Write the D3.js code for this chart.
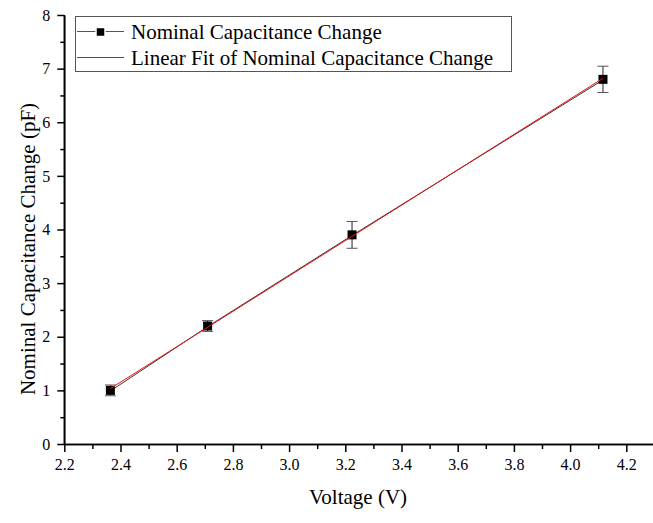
<!DOCTYPE html>
<html>
<head>
<meta charset="utf-8">
<title>Nominal Capacitance Change</title>
<script src="https://cdn.jsdelivr.net/npm/d3@7"></script>
<style>
body { margin: 0; background: #fff; }
svg text { font-family: "Liberation Serif", "Times New Roman", serif !important; fill: #000; }
.axis path, .axis line { stroke: #000; stroke-width: 1.5; }
</style>
</head>
<body>
<script>
// measured values
var voltage = [2.364, 2.71, 3.224, 4.117];
var capChange = [1.0, 2.2, 3.9, 6.8];
var capError = [0.1, 0.1, 0.25, 0.245];
var xTicks = [2.2, 2.4, 2.6, 2.8, 3.0, 3.2, 3.4, 3.6, 3.8, 4.0, 4.2];
var yTicks = [0, 1, 2, 3, 4, 5, 6, 7, 8];
var legendLabels = ["Nominal Capacitance Change", "Linear Fit of Nominal Capacitance Change"];

var width = 653, height = 523;
var serif = "'Liberation Serif', 'Times New Roman', serif";

var svg = d3.select("body").append("svg")
  .attr("width", width)
  .attr("height", height);

var x = d3.scaleLinear().domain([2.2, 4.3]).range([64.3, 654.4]);
var y = d3.scaleLinear().domain([0, 8]).range([444, 15]);

// minor ticks
var xMinor = d3.range(2.3, 4.3, 0.2);
var yMinor = d3.range(0.5, 8, 1);

svg.append("g")
  .attr("class", "axis")
  .attr("transform", "translate(0," + y(0) + ")")
  .call(d3.axisBottom(x).tickValues(xMinor).tickSize(5).tickFormat("").tickSizeOuter(0));

svg.append("g")
  .attr("class", "axis")
  .attr("transform", "translate(" + x(2.2) + ",0)")
  .call(d3.axisLeft(y).tickValues(yMinor).tickSize(4).tickFormat("").tickSizeOuter(0));

var xAxis = svg.append("g")
  .attr("class", "axis")
  .attr("transform", "translate(0," + y(0) + ")")
  .call(d3.axisBottom(x).tickValues(xTicks).tickSize(8).tickSizeOuter(0).tickFormat(d3.format(".1f")));
xAxis.attr("font-family", serif).attr("font-size", 16);
xAxis.selectAll("text").attr("dy", "0.95em").attr("y", 11);

var yAxis = svg.append("g")
  .attr("class", "axis")
  .attr("transform", "translate(" + x(2.2) + ",0)")
  .call(d3.axisLeft(y).tickValues(yTicks).tickSize(7).tickSizeOuter(0).tickFormat(d3.format("d")));
yAxis.attr("font-family", serif).attr("font-size", 16);
yAxis.selectAll("text").attr("x", -14);
yAxis.select(".domain").attr("d", "M0," + y(8) + "V" + y(0));

// axis titles
svg.append("text")
  .attr("x", 358).attr("y", 504)
  .attr("text-anchor", "middle")
  .attr("font-size", 21)
  .text("Voltage (V)");

svg.append("text")
  .attr("transform", "translate(35,249) rotate(-90)")
  .attr("text-anchor", "middle")
  .attr("font-size", 21)
  .text("Nominal Capacitance Change (pF)");

var pts = voltage.map(function(v, i) { return {x: v, y: capChange[i], e: capError[i]}; });

// data line
svg.append("path")
  .datum(pts)
  .attr("fill", "none")
  .attr("stroke", "#333")
  .attr("stroke-width", 1)
  .attr("d", d3.line().x(function(d) { return x(d.x); }).y(function(d) { return y(d.y) + 0.6; }));

// linear fit (least squares)
var mx = d3.mean(voltage), my = d3.mean(capChange);
var sxy = d3.sum(pts, function(d) { return (d.x - mx) * (d.y - my); });
var sxx = d3.sum(pts, function(d) { return (d.x - mx) * (d.x - mx); });
var slope = sxy / sxx, icpt = my - slope * mx;
var fitEnds = d3.extent(voltage);

// error bars
var eb = svg.append("g").attr("stroke", "#222").attr("stroke-width", 1);
pts.forEach(function(d) {
  var cx = x(d.x);
  eb.append("line").attr("x1", cx).attr("x2", cx).attr("y1", y(d.y + d.e)).attr("y2", y(d.y - d.e));
  eb.append("line").attr("x1", cx - 5.5).attr("x2", cx + 5.5).attr("y1", y(d.y + d.e)).attr("y2", y(d.y + d.e)).attr("stroke", "#555");
  eb.append("line").attr("x1", cx - 5.5).attr("x2", cx + 5.5).attr("y1", y(d.y - d.e)).attr("y2", y(d.y - d.e)).attr("stroke", "#555");
});

svg.selectAll("rect.pt")
  .data(pts)
  .enter().append("rect")
  .attr("class", "pt")
  .attr("x", function(d) { return x(d.x) - 4.5; })
  .attr("y", function(d) { return y(d.y) - 4.5; })
  .attr("width", 9).attr("height", 9)
  .attr("fill", "#000");

svg.append("line")
  .attr("x1", x(fitEnds[0])).attr("y1", y(icpt + slope * fitEnds[0]))
  .attr("x2", x(fitEnds[1])).attr("y2", y(icpt + slope * fitEnds[1]))
  .attr("stroke", "#ee1111")
  .attr("stroke-width", 1);

// legend
var lg = svg.append("g");
lg.append("rect")
  .attr("x", 75.5).attr("y", 16.5).attr("width", 436).attr("height", 55)
  .attr("fill", "#fff").attr("stroke", "#555").attr("stroke-width", 1);
lg.append("line").attr("x1", 77).attr("x2", 124).attr("y1", 31.5).attr("y2", 31.5).attr("stroke", "#555");
lg.append("rect").attr("x", 96).attr("y", 27.5).attr("width", 9).attr("height", 9).attr("fill", "#000").attr("stroke", "#fff").attr("stroke-width", 1.5);
lg.append("line").attr("x1", 77).attr("x2", 124).attr("y1", 57.5).attr("y2", 57.5).attr("stroke", "#ee1111");
legendLabels.forEach(function(t, i) {
  lg.append("text").attr("x", 131).attr("y", 38.5 + i * 26.5).attr("font-size", 21).text(t);
});
</script>
</body>
</html>
